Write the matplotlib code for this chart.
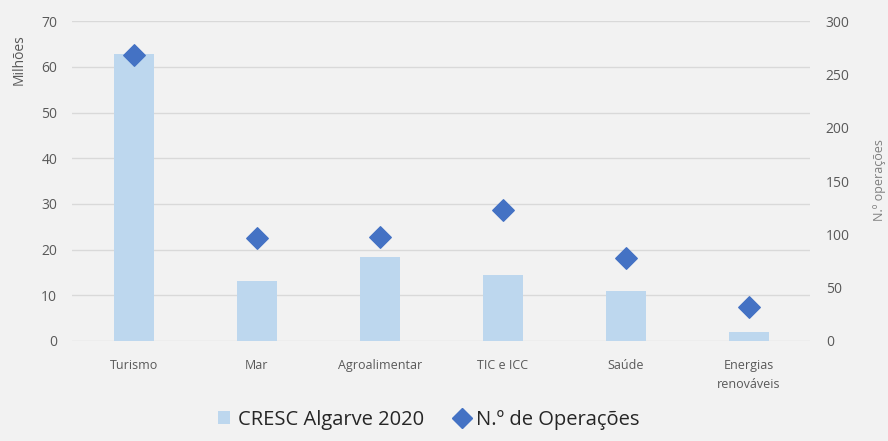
import matplotlib
matplotlib.use("Agg")
import matplotlib.pyplot as plt
from matplotlib.lines import Line2D
from matplotlib.patches import Patch

categories = ["Turismo", "Mar", "Agroalimentar", "TIC e ICC", "Saúde", "Energias\nrenováveis"]
funding_millions = [62.8, 13.2, 18.3, 14.4, 10.9, 2.0]
operations = [268, 97, 98, 123, 78, 32]

left_ticks = [0, 10, 20, 30, 40, 50, 60, 70]
right_ticks = [0, 50, 100, 150, 200, 250, 300]

bg = "#f2f2f2"
bar_color = "#bdd7ee"
diamond_color = "#4472c4"
text_color = "#595959"
grid_color = "#d9d9d9"

plt.rcParams["font.family"] = ["Open Sans", "DejaVu Sans"]

fig = plt.figure(figsize=(8.88, 4.41), dpi=100, facecolor=bg)
ax = fig.add_axes([0.0816, 0.2268, 0.8311, 0.7252], facecolor=bg)
x = list(range(len(categories)))

ax.bar(x, funding_millions, width=0.32, color=bar_color, zorder=2)
ax.set_ylim(0, 70)
ax.set_yticks(left_ticks)
ax.set_xlim(-0.5, len(categories) - 0.5)
ax.set_xticks(x)
ax.set_xticklabels(categories, fontsize=9, color=text_color, linespacing=1.6)
ax.grid(axis="y", color=grid_color, linewidth=1, zorder=0)
ax.set_axisbelow(True)
ax.tick_params(axis="both", length=0, colors=text_color)
ax.tick_params(axis="y", labelsize=10, pad=11)
ax.tick_params(axis="x", pad=13)
for s in ax.spines.values():
    s.set_visible(False)
fig.text(19 / 888, 1 - 60 / 441, "Milhões", rotation=90, fontsize=10,
         color=text_color, ha="center", va="center")

ax2 = ax.twinx()
ax2.scatter(x, operations, marker="D", s=120, color=diamond_color, zorder=3)
ax2.set_ylim(0, 300)
ax2.set_yticks(right_ticks)
ax2.tick_params(axis="y", length=0, colors=text_color, labelsize=10, pad=11)
for s in ax2.spines.values():
    s.set_visible(False)
fig.text(879 / 888, 1 - 180 / 441, "N.º operações", rotation=90, fontsize=9,
         color="#7f7f7f", ha="center", va="center")

handles = [
    Patch(facecolor=bar_color, edgecolor="none", label="CRESC Algarve 2020"),
    Line2D([], [], marker="D", linestyle="none", markersize=10, color=diamond_color, label="N.º de Operações"),
]
fig.legend(handles=handles, loc="lower center", bbox_to_anchor=(0.483, 1 / 441), ncol=2,
           frameon=False, fontsize=14.5, labelcolor="#262626", handlelength=0.6,
           handleheight=0.6, handletextpad=0.4, columnspacing=1.6, borderpad=0)

fig.savefig("out.png", dpi=100, facecolor=bg)
